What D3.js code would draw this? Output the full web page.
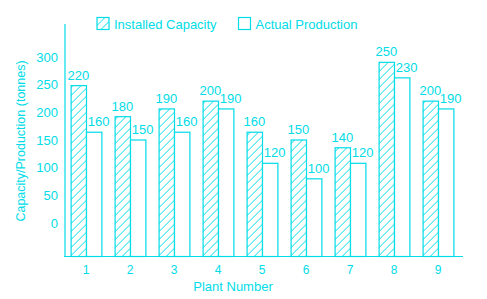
<!DOCTYPE html>
<html lang="en">
<head>
<meta charset="utf-8">
<title>Installed capacity vs actual production</title>
<script src="https://cdn.jsdelivr.net/npm/d3@7"></script>
<style>
  body { margin: 0; background: #fff; }
  text { font-family: "Liberation Sans", Arial, sans-serif; fill: #00dce8; }
</style>
</head>
<body>
<script>
// data
var plants = ["1", "2", "3", "4", "5", "6", "7", "8", "9"];
var installed = [220, 180, 190, 200, 160, 150, 140, 250, 200];
var actual = [160, 150, 160, 190, 120, 100, 120, 230, 190];
var yTicks = [0, 50, 100, 150, 200, 250, 300];

var w = 487, h = 299;
var cyan = "#00dce8";

var svg = d3.select("body").append("svg")
  .attr("width", w)
  .attr("height", h);

// hatch pattern for installed capacity
var defs = svg.append("defs");
var pat = defs.append("pattern")
  .attr("id", "hatch")
  .attr("patternUnits", "userSpaceOnUse")
  .attr("width", 8)
  .attr("height", 8);
pat.append("rect").attr("width", 8).attr("height", 8).attr("fill", "#fff");
pat.append("path")
  .attr("d", "M-2,2 l4,-4 M0,8 l8,-8 M6,10 l4,-4")
  .attr("stroke", cyan)
  .attr("stroke-width", 1);

var x0 = d3.scaleBand()
  .domain(plants)
  .range([64, 460])
  .paddingInner(0.3)
  .paddingOuter(0.15);

var x1 = d3.scaleBand()
  .domain(["installed", "actual"])
  .range([0, x0.bandwidth()]);

var y = d3.scaleLinear()
  .domain([0, 300])
  .range([256.5, 23.5]);

// the printed tick labels sit on their own (shifted) scale in the original
var yLab = d3.scaleLinear()
  .domain([0, 300])
  .range([223, 57]);

// bars
var groups = svg.selectAll("g.plant")
  .data(plants)
  .enter().append("g")
  .attr("class", "plant")
  .attr("transform", function(d) { return "translate(" + x0(d) + ",0)"; });

groups.append("rect")
  .attr("x", x1("installed") + 0.5)
  .attr("y", function(d, i) { return y(installed[i]); })
  .attr("width", x1.bandwidth())
  .attr("height", function(d, i) { return y(0) - y(installed[i]); })
  .attr("fill", "url(#hatch)")
  .attr("stroke", cyan)
  .attr("stroke-width", 1.2);

groups.append("rect")
  .attr("x", x1("actual") + 0.5)
  .attr("y", function(d, i) { return y(actual[i]); })
  .attr("width", x1.bandwidth())
  .attr("height", function(d, i) { return y(0) - y(actual[i]); })
  .attr("fill", "#fff")
  .attr("stroke", cyan)
  .attr("stroke-width", 1.2);

// value labels
groups.append("text")
  .attr("x", x1("installed") + x1.bandwidth() / 2)
  .attr("y", function(d, i) { return y(installed[i]) - 6; })
  .attr("text-anchor", "middle")
  .attr("font-size", "13px")
  .text(function(d, i) { return installed[i]; });

groups.append("text")
  .attr("x", x1("actual") + x1.bandwidth() / 2 + 5)
  .attr("y", function(d, i) { return y(actual[i]) - 6; })
  .attr("text-anchor", "middle")
  .attr("font-size", "13px")
  .text(function(d, i) { return actual[i]; });

// x axis
var xAxis = svg.append("g")
  .attr("transform", "translate(0," + y(0) + ")")
  .call(d3.axisBottom(x0).tickSize(0).tickPadding(9));
xAxis.select(".domain").attr("d", "M64,0H463").attr("stroke", cyan).attr("stroke-width", 1.2);
xAxis.selectAll("text").attr("font-size", "12px").attr("fill", cyan);

// y axis line
var yAxis = svg.append("g")
  .attr("transform", "translate(64.5,0)")
  .call(d3.axisLeft(y).tickValues([]).tickSize(0));
yAxis.select(".domain").attr("stroke", cyan).attr("stroke-width", 1.2);

// y tick labels
var yLabAxis = svg.append("g")
  .attr("transform", "translate(58,0)")
  .call(d3.axisLeft(yLab).tickValues(yTicks).tickSize(0).tickPadding(0));
yLabAxis.select(".domain").remove();
yLabAxis.selectAll("text").attr("font-size", "13px").attr("fill", cyan);

// axis titles
svg.append("text")
  .attr("transform", "translate(25,141) rotate(-90)")
  .attr("text-anchor", "middle")
  .attr("font-size", "12.5px")
  .text("Capacity/Production (tonnes)");

svg.append("text")
  .attr("x", 233)
  .attr("y", 291)
  .attr("text-anchor", "middle")
  .attr("font-size", "13px")
  .text("Plant Number");

// legend
var legend = [
  { label: "Installed Capacity", fill: "url(#hatch)", x: 97 },
  { label: "Actual Production", fill: "#fff", x: 238.5 }
];
var lg = svg.selectAll("g.legend")
  .data(legend)
  .enter().append("g")
  .attr("class", "legend")
  .attr("transform", function(d) { return "translate(" + d.x + ",17.5)"; });
lg.append("rect")
  .attr("width", 12)
  .attr("height", 12)
  .attr("fill", function(d) { return d.fill; })
  .attr("stroke", cyan)
  .attr("stroke-width", 1.2);
lg.append("text")
  .attr("x", 17)
  .attr("y", 11.5)
  .attr("font-size", "13px")
  .text(function(d) { return d.label; });
</script>
</body>
</html>
